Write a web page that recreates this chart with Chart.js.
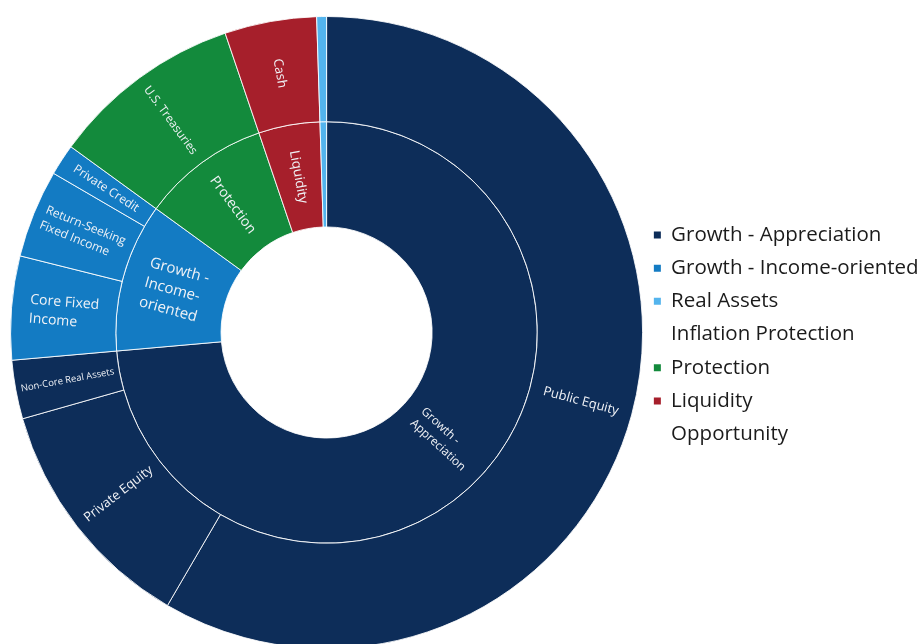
<!DOCTYPE html>
<html>
<head>
<meta charset="utf-8">
<script src="https://cdn.jsdelivr.net/npm/chart.js@4.4.1/dist/chart.umd.min.js"></script>
<style>
  html, body { margin: 0; padding: 0; background: #fff; overflow: hidden; }
  #wrap { position: relative; width: 922px; height: 644px; }
</style>
</head>
<body>
<div id="wrap"><canvas id="sunburst"></canvas></div>
<script>
// inner ring: asset groups (share of portfolio, %)
const innerLabels = ['Growth - Appreciation', 'Growth - Income-oriented', 'Protection', 'Liquidity', 'Real Assets Inflation Protection'];
const innerValues = [73.6, 11.4, 9.8, 4.7, 0.5];

// outer ring: asset classes, in the same clockwise order
const outerLabels = ['Public Equity', 'Private Equity', 'Non-Core Real Assets', 'Core Fixed Income',
  'Return-Seeking Fixed Income', 'Private Credit', 'U.S. Treasuries', 'Cash', 'Real Assets'];
const outerValues = [58.4, 12.2, 3.0, 5.3, 4.5, 1.6, 9.8, 4.7, 0.5];
const outerGroup = [0, 0, 0, 1, 1, 1, 2, 3, 4];

// legend rows (null = text row without a marker)
const legendLabels = ['Growth - Appreciation', 'Growth - Income-oriented', 'Real Assets', 'Inflation Protection', 'Protection', 'Liquidity', 'Opportunity'];
const legendGroup = [0, 1, 4, null, 2, 3, null];

// how the slice names wrap inside the rings
const labelLines = {
  'Growth - Appreciation': ['Growth -', 'Appreciation'],
  'Growth - Income-oriented': ['Growth -', 'Income-', 'oriented'],
  'Core Fixed Income': ['Core Fixed', 'Income'],
  'Return-Seeking Fixed Income': ['Return-Seeking', 'Fixed Income'],
  'Real Assets Inflation Protection': [],
  'Real Assets': []
};
const labelSize = {
  'Public Equity': 13, 'Private Equity': 13, 'Non-Core Real Assets': 9.5, 'Core Fixed Income': 14,
  'Return-Seeking Fixed Income': 12, 'Private Credit': 12, 'U.S. Treasuries': 11.8, 'Cash': 13,
  'Growth - Appreciation': 11.8, 'Growth - Income-oriented': 15, 'Protection': 14, 'Liquidity': 13.5
};

const groupColors = ['#0d2d59', '#137bc3', '#138a3c', '#a61f2b', '#53b4ed'];
const TEXT = '#1b1b1b';
const FONT = '"Open Sans", "Noto Sans", sans-serif';

// draws each slice name along its radius, flipped on the left half so it reads upright
const sliceLabels = {
  id: 'sliceLabels',
  afterDatasetsDraw(chart) {
    const ctx = chart.ctx;
    chart.data.datasets.forEach((ds, di) => {
      const meta = chart.getDatasetMeta(di);
      meta.data.forEach((arc, i) => {
        const name = ds.labels[i];
        const lines = labelLines[name] || [name];
        if (!lines.length) return;
        const p = arc.getProps(['x', 'y', 'startAngle', 'endAngle', 'innerRadius', 'outerRadius'], true);
        const mid = (p.startAngle + p.endAngle) / 2;
        const r = (p.innerRadius + p.outerRadius) / 2;
        let rot = mid;
        if (Math.cos(mid) < 0) rot += Math.PI;
        const size = labelSize[name] || 12;
        const lh = size * 1.35;
        ctx.save();
        ctx.translate(p.x + Math.cos(mid) * r, p.y + Math.sin(mid) * r);
        ctx.rotate(rot);
        ctx.font = size + 'px ' + FONT;
        ctx.fillStyle = '#f0f2f6';
        ctx.textAlign = 'left';
        ctx.textBaseline = 'middle';
        const w = Math.max(...lines.map(l => ctx.measureText(l).width));
        lines.forEach((l, k) => ctx.fillText(l, -w / 2, (k - (lines.length - 1) / 2) * lh));
        ctx.restore();
      });
    });
  }
};

new Chart(document.getElementById('sunburst'), {
  type: 'doughnut',
  data: {
    labels: outerLabels,
    datasets: [
      {
        labels: outerLabels,
        data: outerValues,
        backgroundColor: outerGroup.map(g => groupColors[g]),
        borderColor: 'rgba(255,255,255,0.85)',
        borderWidth: 1
      },
      {
        labels: innerLabels,
        data: innerValues,
        backgroundColor: groupColors,
        borderColor: 'rgba(255,255,255,0.85)',
        borderWidth: 1
      }
    ]
  },
  options: {
    responsive: true,
    maintainAspectRatio: false,
    animation: false,
    radius: 316,
    cutout: '33.4%',
    layout: { padding: { top: 21, bottom: 0, left: 12, right: -6.6 } },
    plugins: {
      tooltip: { enabled: false },
      legend: {
        position: 'right',
        onClick: () => {},
        // empty title only nudges the rows down a little
        title: { display: true, text: ' ', padding: 0, color: TEXT, font: { size: 3.4 } },
        labels: {
          font: { family: FONT, size: 20.5 },
          color: TEXT,
          boxWidth: 7,
          boxHeight: 7,
          padding: 12.7,
          generateLabels: () => legendLabels.map((t, i) => ({
            text: t,
            fillStyle: legendGroup[i] === null ? 'rgba(0,0,0,0)' : groupColors[legendGroup[i]],
            strokeStyle: 'rgba(0,0,0,0)',
            fontColor: TEXT,
            lineWidth: 0,
            hidden: false,
            index: i
          }))
        }
      }
    }
  },
  plugins: [sliceLabels]
});
</script>
</body>
</html>
